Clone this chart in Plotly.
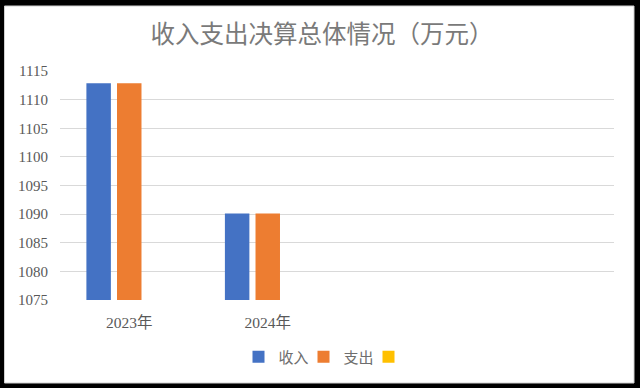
import plotly.graph_objects as go

categories = ["2023年", "2024年"]
income = [1112.85, 1090.12]
expense = [1112.85, 1090.12]
third = [None, None]
series_names = ["收入", "支出", ""]
colors = ["#4472C4", "#ED7D31", "#FFC000"]
y_ticks = [1075, 1080, 1085, 1090, 1095, 1100, 1105, 1110, 1115]

W, H = 640, 388
ml, mr, mt, mb = 60, 26, 71, 88
pw, ph = W - ml - mr, H - mt - mb

def px2x(px):
    return (px - ml) / pw

def py2y(py):
    return (H - mb - py) / ph

fig = go.Figure()
for name, vals, col in zip(series_names, [income, expense, third], colors):
    fig.add_trace(go.Bar(x=categories, y=vals, name=name, marker_color=col,
                         marker_line_width=0, showlegend=True))

fig.update_layout(
    width=W, height=H,
    margin=dict(l=ml, r=mr, t=mt, b=mb, pad=0),
    paper_bgcolor="black",
    plot_bgcolor="white",
    barmode="group",
    bargap=0.337,
    bargroupgap=0.2,
    title=dict(text="收入支出决算总体情况（万元）", x=322 / W, xanchor="center",
               y=1 - 34.5 / H, yanchor="middle",
               font=dict(family="Noto Sans CJK SC", size=24.5, color="#7a7a7a")),
    font=dict(family="Liberation Serif, Noto Sans CJK SC", color="#595959"),
    xaxis=dict(range=[-0.5, 3.5], showgrid=False, zeroline=False, showline=False,
               tickfont=dict(size=15.5, family="Liberation Serif, Noto Sans CJK SC", color="#595959"),
               ticks="", ticklabelstandoff=11, fixedrange=True),
    yaxis=dict(range=[1075, 1115], tickvals=y_ticks, showgrid=True, gridcolor="#D9D9D9",
               gridwidth=1, zeroline=False, showline=False, ticks="",
               tickfont=dict(size=15, family="Liberation Serif", color="#595959"),
               ticklabelstandoff=11, fixedrange=True),
    legend=dict(orientation="h", x=px2x(336), xanchor="center", y=py2y(357), yanchor="middle",
                font=dict(size=15, family="Noto Sans CJK SC", color="#6e6e6e"),
                entrywidth=20,
                bgcolor="rgba(0,0,0,0)", itemclick=False),
    shapes=[dict(type="rect", xref="paper", yref="paper",
                 x0=px2x(4.5), x1=px2x(634), y0=py2y(383), y1=py2y(6),
                 fillcolor="white", line=dict(color="#D0D0D0", width=1), layer="below")],
)

fig.write_html("out.html", config={"displayModeBar": False},
               post_script="document.body.style.margin='0';document.body.style.overflow='hidden';")
